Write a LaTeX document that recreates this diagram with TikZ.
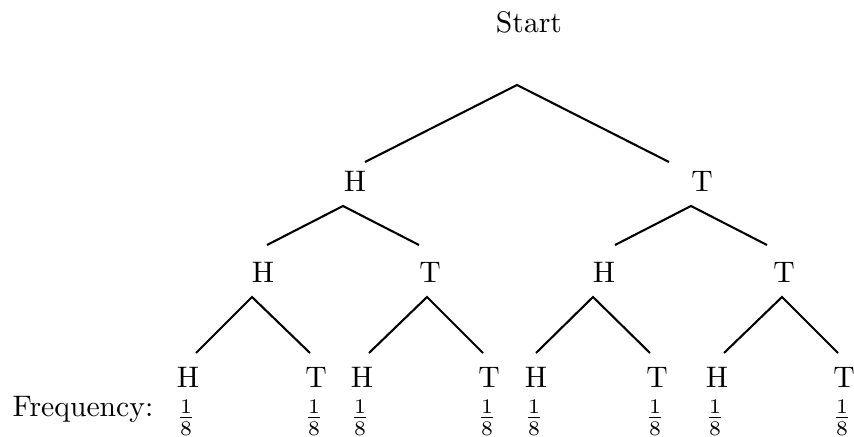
\documentclass[tikz,border=0pt]{standalone}
\usepackage{amsmath}
\begin{document}
\begin{tikzpicture}[x=0.337pt,y=-0.337pt,line width=0.7pt,
  lab/.style={anchor=base,inner sep=0pt}]
\useasboundingbox (0,0) rectangle (854,437);
\node[lab] (start) at (529,33) {Start};
\foreach \n/\x/\y/\t in {h/355/192/H, t/702/192/T,
    hh/263/283/H, ht/430/283/T, th/604/283/H, tt/784/283/T,
    hhh/188/388/H, hht/316/388/T, hth/362/388/H, htt/489/388/T,
    thh/536/388/H, tht/657/388/T, tth/717/388/H, ttt/844/388/T}
  \node[lab] (\n) at (\x,\y) {\t};
% branches: parent apex, then the two child ends
\foreach \p/\ax/\ay/\l/\r/\lx/\rx/\ey in {start/517/85/h/t/365/669/162,
    h/343/206/hh/ht/267/419/245, t/691/206/th/tt/615/767/245,
    hh/252/297/hhh/hht/196/310/353, ht/427/297/hth/htt/369/483/353,
    th/593/297/thh/tht/536/650/353, tt/782/297/tth/ttt/724/838/353}{
  \coordinate (\p-a) at (\ax,\ay);
  \coordinate (\l-e) at (\lx,\ey); \coordinate (\r-e) at (\rx,\ey);
  \draw (\l-e) -- (\p-a) -- (\r-e);}
\node[lab] (freq) at (83,417) {Frequency:};
\foreach \n/\x in {1/186,2/314,3/360,4/487,5/534,6/655,7/715,8/842}
  \node[lab] (f\n) at (\x,425) {$\frac{1}{8}$};
\end{tikzpicture}
\end{document}
